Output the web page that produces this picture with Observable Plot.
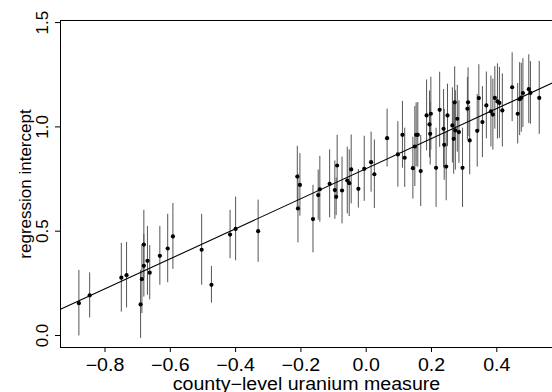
<!DOCTYPE html>
<html>
<head>
<meta charset="utf-8">
<script src="https://cdn.jsdelivr.net/npm/d3@7"></script>
<script src="https://cdn.jsdelivr.net/npm/@observablehq/plot@0.6"></script>
<style>
  html, body { margin: 0; padding: 0; background: white; }
  #chart { width: 552px; height: 392px; }
</style>
</head>
<body>
<div id="chart"></div>
<script>
// county-level uranium measure (x)
const uranium = [
  -0.880, -0.847, -0.750, -0.734, -0.691, -0.687, -0.681, -0.681, -0.670, -0.663,
  -0.632, -0.608, -0.592, -0.504, -0.474, -0.417, -0.400, -0.331,
  -0.211, -0.203, -0.209, -0.163, -0.147, -0.142, -0.112, -0.096, -0.092, -0.089,
  -0.074, -0.058, -0.052, -0.046, -0.024,
  -0.006, 0.015, 0.025, 0.064, 0.097, 0.111, 0.118, 0.143, 0.149, 0.153, 0.158,
  0.167, 0.185, 0.194, 0.198, 0.196,
  0.225, 0.214, 0.237, 0.239, 0.245, 0.249, 0.264, 0.268, 0.271, 0.273, 0.279,
  0.284, 0.295, 0.312, 0.310, 0.317, 0.345, 0.340,
  0.356, 0.368, 0.382, 0.388, 0.394, 0.402, 0.408, 0.417, 0.447, 0.464, 0.470,
  0.475, 0.480, 0.498, 0.503, 0.530
];
// estimated county regression intercepts (y)
const intercept = [
  0.155, 0.192, 0.277, 0.289, 0.149, 0.270, 0.334, 0.436, 0.358, 0.301,
  0.382, 0.417, 0.475, 0.411, 0.243, 0.484, 0.511, 0.500,
  0.762, 0.722, 0.609, 0.558, 0.673, 0.701, 0.727, 0.697, 0.665, 0.815,
  0.695, 0.743, 0.730, 0.796, 0.703,
  0.799, 0.831, 0.773, 0.946, 0.868, 0.962, 0.852, 0.802, 0.906, 0.962, 0.962,
  0.788, 1.055, 1.012, 1.063, 0.967,
  1.082, 0.804, 0.991, 0.914, 0.810, 1.055, 1.007, 0.943, 1.118, 0.983, 1.039,
  0.975, 0.804, 1.118, 1.087, 0.935, 1.138, 0.981,
  1.023, 1.103, 1.074, 1.059, 1.139, 1.122, 1.115, 1.079, 1.190, 1.063, 1.133,
  1.140, 1.162, 1.181, 1.163, 1.139
];
// standard errors (half-length of the bars)
const stderr = [
  0.157, 0.108, 0.165, 0.157, 0.163, 0.165, 0.150, 0.164, 0.165, 0.130,
  0.141, 0.164, 0.158, 0.170, 0.088, 0.116, 0.153, 0.149,
  0.145, 0.150, 0.165, 0.162, 0.120, 0.158, 0.163, 0.140, 0.090, 0.145,
  0.160, 0.160, 0.160, 0.165, 0.092,
  0.156, 0.144, 0.164, 0.139, 0.157, 0.160, 0.142, 0.148, 0.192, 0.153, 0.155,
  0.170, 0.170, 0.160, 0.175, 0.150,
  0.180, 0.190, 0.188, 0.170, 0.164, 0.150, 0.180, 0.170, 0.170, 0.190, 0.160,
  0.150, 0.190, 0.165, 0.150, 0.165, 0.160, 0.174,
  0.170, 0.160, 0.170, 0.170, 0.150, 0.180, 0.170, 0.175, 0.165, 0.145, 0.175,
  0.165, 0.165, 0.165, 0.150, 0.175
];
// group-level regression line: intercept = a + b * uranium
const lineA = 0.80;
const lineB = 0.72;

const xTicks = [-0.8, -0.6, -0.4, -0.2, 0.0, 0.2, 0.4];
const yTicks = [0.0, 0.5, 1.0, 1.5];
const xDomain = [-0.9363, 0.5706];
const yDomain = [-0.0575, 1.510];

const data = uranium.map((u, i) => ({u, a: intercept[i], se: stderr[i]}));
const lineData = xDomain.map(u => ({u, a: lineA + lineB * u}));

const fmt = d3.format(".1f");

const chart = Plot.plot({
  width: 552,
  height: 392,
  marginLeft: 60,
  marginRight: 0,
  marginTop: 20,
  marginBottom: 45,
  style: {fontFamily: "'Liberation Sans', Arial, sans-serif", fontSize: "17px", color: "black", background: "white"},
  x: {domain: xDomain},
  y: {domain: yDomain},
  marks: [
    Plot.ruleX(data, {x: "u", y1: d => d.a - d.se, y2: d => d.a + d.se, stroke: "#555", strokeWidth: 1}),
    Plot.line(lineData, {x: "u", y: "a", stroke: "black", strokeWidth: 1.1}),
    Plot.dot(data, {x: "u", y: "a", r: 2.1, fill: "black", stroke: "none"}),
    Plot.ruleY([yDomain[0], yDomain[1]], {stroke: "black"}),
    Plot.ruleX([xDomain[0]], {stroke: "black"}),
    Plot.axisX({ticks: xTicks, tickFormat: fmt, tickSize: 5, tickPadding: 6, fontSize: 17.5,
      label: "county\u2212level uranium measure", labelAnchor: "center", labelArrow: "none", labelOffset: 42}),
    Plot.axisY({ticks: yTicks, tickFormat: fmt, tickSize: 5, tickPadding: 8, tickRotate: -90, fontSize: 17,
      label: "regression intercept", labelAnchor: "center", labelArrow: "none", labelOffset: 42})
  ]
});
document.getElementById("chart").appendChild(chart);

// the reference's horizontal text is slightly wide: stretch x-axis text glyphs
chart.querySelectorAll('g[aria-label="x-axis tick label"] text, g[aria-label="x-axis label"] text').forEach(t => {
  const w = t.getComputedTextLength();
  if (w > 0) {
    t.setAttribute("textLength", (w * 1.12).toFixed(1));
    t.setAttribute("lengthAdjust", "spacingAndGlyphs");
  }
});
</script>
</body>
</html>
